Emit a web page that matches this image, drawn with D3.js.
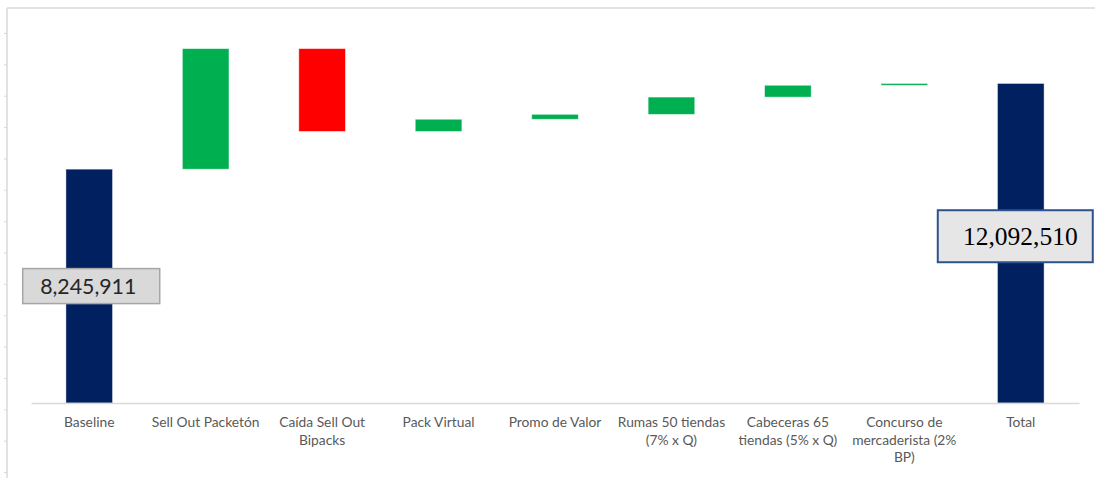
<!DOCTYPE html>
<html>
<head>
<meta charset="utf-8">
<script src="https://cdn.jsdelivr.net/npm/d3@7"></script>
<style>
  html, body { margin: 0; padding: 0; background: #ffffff; }
  svg { display: block; }
</style>
</head>
<body>
<div id="chart"></div>
<script>
// ---- data ----
const categories = ["Baseline", "Sell Out Packetón", "Caída Sell Out Bipacks", "Pack Virtual", "Promo de Valor",
  "Rumas 50 tiendas (7% x Q)", "Cabeceras 65 tiendas (5% x Q)", "Concurso de mercaderista (2% BP)", "Total"];
const tickLabels = [
  ["Baseline"],
  ["Sell Out Packetón"],
  ["Caída Sell Out", "Bipacks"],
  ["Pack Virtual"],
  ["Promo de Valor"],
  ["Rumas 50 tiendas", "(7% x Q)"],
  ["Cabeceras 65", "tiendas (5% x Q)"],
  ["Concurso de", "mercaderista (2%", "BP)"],
  ["Total"]
];
const baselineValue = 8245911;
const stepValues = [5410000, -3715000, 545000, 220000, 775000, 530000, 81599];
const totalValue = 12092510;
const valueLabels = ["8,245,911", "12,092,510"];
const yDomain = [-2250000, 15480000];
const frameTicks = d3.range(0, 15);

// ---- layout ----
const W = 1095, H = 478;
const svg = d3.select("#chart").append("svg").attr("width", W).attr("height", H);

const x = d3.scaleBand().domain(categories).range([31, 1079]).paddingInner(0.6).paddingOuter(0.3);
const y = d3.scaleLinear().domain(yDomain).range([403, 8]);
const axisBottomY = y(yDomain[0]);

// build waterfall segments
const segs = [];
let run = baselineValue;
segs.push({cat: categories[0], y0: yDomain[0], y1: baselineValue, type: "total"});
stepValues.forEach((v, i) => {
  const s = run, e = run + v;
  segs.push({cat: categories[i + 1], y0: s, y1: e, type: v >= 0 ? "up" : "down"});
  run = e;
});
segs.push({cat: categories[8], y0: yDomain[0], y1: totalValue, type: "total"});

const colors = {total: "#002060", up: "#00B050", down: "#FF0000"};

// frame lines (left + top) with decorative ticks
const frameScale = d3.scaleLinear().domain([0, 14]).range([33, 472]);
const frameAxis = d3.axisLeft(frameScale).tickValues(frameTicks).tickSize(3).tickFormat("");
const fa = svg.append("g").attr("transform", "translate(7,0)").call(frameAxis);
fa.select(".domain").remove();
fa.selectAll(".tick line").attr("stroke", "#d9d9d9").attr("stroke-width", 1);
svg.append("line").attr("x1", 7).attr("x2", 7).attr("y1", 8).attr("y2", H)
  .attr("stroke", "#d9d9d9").attr("stroke-width", 1.5);
svg.append("line").attr("x1", 7).attr("x2", W).attr("y1", 8).attr("y2", 8)
  .attr("stroke", "#d9d9d9").attr("stroke-width", 1.5);

// bars
svg.append("g").selectAll("rect").data(segs).join("rect")
  .attr("x", d => x(d.cat))
  .attr("width", x.bandwidth())
  .attr("y", d => y(Math.max(d.y0, d.y1)))
  .attr("height", d => Math.abs(y(d.y0) - y(d.y1)))
  .attr("fill", d => colors[d.type])
  .attr("stroke", "rgba(255,255,255,0.5)")
  .attr("stroke-width", 0.8);

// category axis
const xAxis = d3.axisBottom(x).tickSize(0).tickFormat("");
const xa = svg.append("g").attr("transform", `translate(0,${axisBottomY})`).call(xAxis);
xa.select(".domain").attr("stroke", "#d9d9d9").attr("stroke-width", 1.5);

const labelG = svg.append("g");
categories.forEach((c, i) => {
  const t = labelG.append("text")
    .attr("x", x(c) + x.bandwidth() / 2)
    .attr("y", 427)
    .attr("text-anchor", "middle")
    .attr("font-family", "Lato, 'Open Sans', sans-serif")
    .attr("font-size", 13.8)
    .attr("fill", "#595959");
  tickLabels[i].forEach((ln, j) => {
    t.append("tspan").attr("x", x(c) + x.bandwidth() / 2).attr("dy", j === 0 ? 0 : 17.5).text(ln);
  });
});

// value boxes
// Baseline
{
  const cx = x(categories[0]) + x.bandwidth() / 2 + 2;
  const cy = (y(baselineValue) + axisBottomY) / 2;
  const bw = 137, bh = 35;
  svg.append("rect").attr("x", cx - bw / 2).attr("y", cy - bh / 2).attr("width", bw).attr("height", bh)
    .attr("fill", "#d9d9d9").attr("stroke", "#a6a6a6").attr("stroke-width", 1.5);
  svg.append("text").attr("x", cx - 3).attr("y", cy + 7.5).attr("text-anchor", "middle")
    .attr("font-family", "Lato, 'Open Sans', sans-serif").attr("font-size", 21.3).attr("fill", "#262626")
    .text(valueLabels[0]);
}
// Total
{
  const cx = x(categories[8]) + x.bandwidth() / 2 - 5.5;
  const cy = (y(totalValue) + axisBottomY) / 2 - 7;
  const bw = 155, bh = 52;
  svg.append("rect").attr("x", cx - bw / 2).attr("y", cy - bh / 2).attr("width", bw).attr("height", bh)
    .attr("fill", "#e7e6e6").attr("stroke", "#2f528f").attr("stroke-width", 2);
  svg.append("text").attr("x", cx + 5).attr("y", cy + 8.5).attr("text-anchor", "middle")
    .attr("font-family", "'Liberation Serif', 'Times New Roman', serif").attr("font-size", 25.5).attr("fill", "#000000")
    .text(valueLabels[1]);
}
</script>
</body>
</html>
